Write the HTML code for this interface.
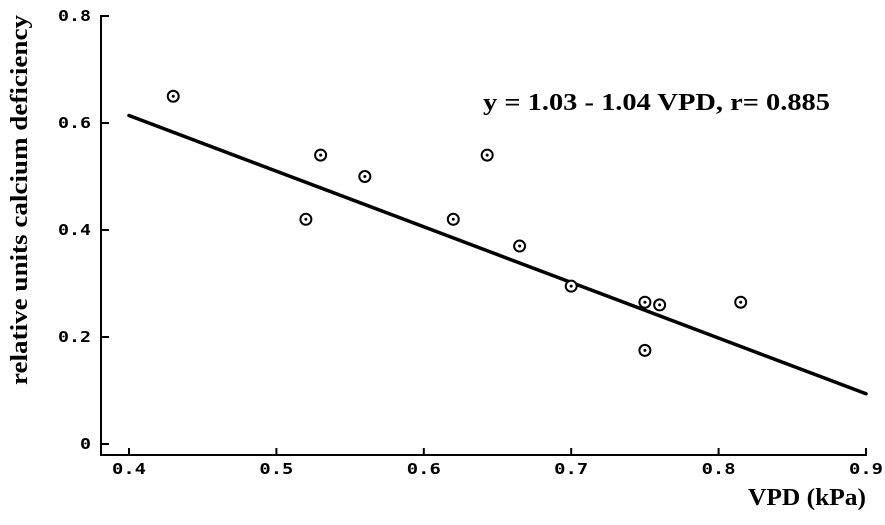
<!DOCTYPE html>
<html><head><meta charset="utf-8"><style>
html,body{margin:0;padding:0;background:#fff;}
svg{display:block;}
.tk{font-family:"DejaVu Sans Mono","Liberation Mono",monospace;font-size:15px;font-weight:bold;}
.lb{font-family:"Liberation Serif",serif;font-size:24px;font-weight:bold;}
</style></head><body>
<svg id="chart" width="885" height="525" viewBox="0 0 885 525" xmlns="http://www.w3.org/2000/svg">
<g id="axes"></g>
<g id="marks"></g>
<text class="lb" x="483" y="110" textLength="347" lengthAdjust="spacingAndGlyphs">y = 1.03 - 1.04 VPD, r= 0.885</text>
<text class="lb" x="748" y="505" textLength="118" lengthAdjust="spacingAndGlyphs">VPD (kPa)</text>
<text class="lb" transform="translate(27,385) rotate(-90)" textLength="370" lengthAdjust="spacingAndGlyphs">relative units calcium deficiency</text>
</svg>
<script>
const xTicks=[0.4,0.5,0.6,0.7,0.8,0.9];
const xTickLabels=["0.4","0.5","0.6","0.7","0.8","0.9"];
const yTicks=[0,0.2,0.4,0.6,0.8];
const yTickLabels=["0","0.2","0.4","0.6","0.8"];
const vpd=[0.43,0.52,0.53,0.56,0.62,0.643,0.665,0.70,0.75,0.76,0.75,0.815];
const deficiency=[0.65,0.42,0.54,0.50,0.42,0.54,0.37,0.295,0.265,0.26,0.175,0.265];
const intercept=1.03, slope=-1.04, lineX=[0.4,0.9];
const xs=v=>129+(v-0.4)*1474;
const ys=v=>444-v*535;
const NS="http://www.w3.org/2000/svg";
const axes=document.getElementById('axes'), marks=document.getElementById('marks');
function mk(tag,attrs,parent){const e=document.createElementNS(NS,tag);for(const k in attrs)e.setAttribute(k,attrs[k]);parent.appendChild(e);return e;}
let e=mk('line',{x1:101,y1:15,x2:101,y2:456,stroke:'#000','stroke-width':2},axes);


e=mk('line',{x1:100,y1:455,x2:867,y2:455,stroke:'#000','stroke-width':2},axes);


yTicks.forEach((t,i)=>{
  const y=ys(t);
  e=mk('line',{x1:101,y1:y,x2:109,y2:y,stroke:'#000','stroke-width':2},axes);
  
  
  const lab=yTickLabels[i];
  const w=lab.length>1?33:11;
  e=mk('text',{x:91-w,y:y+5,class:'tk',textLength:w,lengthAdjust:'spacingAndGlyphs'},axes);
  e.textContent=lab;
  
  
});
xTicks.forEach((t,i)=>{
  const x=xs(t);
  e=mk('line',{x1:x,y1:455,x2:x,y2:448,stroke:'#000','stroke-width':2},axes);
  
  
  e=mk('text',{x:x-17,y:474,class:'tk',textLength:34,lengthAdjust:'spacingAndGlyphs'},axes);
  e.textContent=xTickLabels[i];
  
  
});
e=mk('line',{x1:xs(lineX[0]),y1:ys(intercept+slope*lineX[0]),x2:xs(lineX[1]),y2:ys(intercept+slope*lineX[1]),stroke:'#000','stroke-width':3.5,'stroke-linecap':'round'},marks);


vpd.forEach((v,i)=>{
  const g=mk('g',{},marks);
  
  
  mk('circle',{cx:xs(v),cy:ys(deficiency[i]),r:5.5,fill:'#fff',stroke:'#000','stroke-width':2},g);
  mk('circle',{cx:xs(v),cy:ys(deficiency[i]),r:1.5,fill:'#000'},g);
});
</script>
</body></html>
